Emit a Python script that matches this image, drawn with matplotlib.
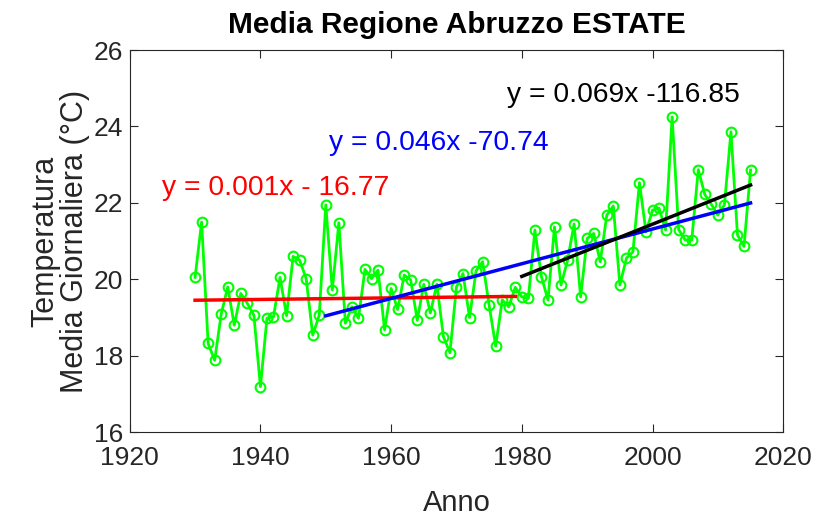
import numpy as np
import matplotlib
matplotlib.use("Agg")
import matplotlib.pyplot as plt

plt.rcParams['font.family'] = ['Liberation Sans', 'DejaVu Sans']

# temperature medie estive (°C), 1930-2015
anni = np.arange(1930, 2016)
temp = np.array([
    20.05, 21.50, 18.32, 17.88, 19.09, 19.80, 18.80, 19.63, 19.37, 19.06,
    17.19, 18.98, 19.02, 20.05, 19.05, 20.60, 20.50, 20.02, 18.54, 19.06,
    21.95, 19.72, 21.48, 18.85, 19.28, 18.98, 20.26, 20.02, 20.24, 18.68,
    19.76, 19.21, 20.11, 19.98, 18.93, 19.87, 19.12, 19.87, 18.50, 18.08,
    19.80, 20.15, 19.00, 20.22, 20.46, 19.32, 18.25, 19.46, 19.28, 19.79,
    19.54, 19.50, 21.29, 20.07, 19.46, 21.37, 19.85, 20.50, 21.45, 19.54,
    21.07, 21.20, 20.46, 21.68, 21.92, 19.85, 20.55, 20.72, 22.53, 21.24,
    21.81, 21.86, 21.29, 24.25, 21.30, 21.03, 21.03, 22.87, 22.22, 21.96,
    21.68, 21.95, 23.86, 21.16, 20.86, 22.86,
])

# periodi per le rette di regressione
periodi = [(1930, 1979), (1950, 2015), (1980, 2015)]
colori = ['#ff0000', '#0000ff', '#000000']
etichette = ['y = 0.001x - 16.77', 'y = 0.046x -70.74', 'y = 0.069x -116.85']
pos_etichette = [(1925.0, 22.4), (1950.5, 23.57), (1977.8, 24.82)]

fig = plt.figure(figsize=(8.21, 5.27), dpi=100)
ax = fig.add_axes([0.158, 0.180, 0.796, 0.725])

ax.plot(anni, temp, '-o', color='#00ff00', lw=2, ms=7, mfc='none', mew=1.5, zorder=2)

for (a, b), c in zip(periodi, colori):
    sel = (anni >= a) & (anni <= b)
    p = np.polyfit(anni[sel], temp[sel], 1)
    xx = np.array([a, b])
    ax.plot(xx, np.polyval(p, xx), color=c, lw=2.5, zorder=3)

for testo, (x, y), c in zip(etichette, pos_etichette, colori):
    ax.text(x, y, testo, color=c, fontsize=20.3, va='center', ha='left')

ax.set_xlim(1920, 2020)
ax.set_ylim(16, 26)
ax.set_xticks(np.arange(1920, 2021, 20))
ax.set_yticks(np.arange(16, 27, 2))
ax.tick_params(direction='in', top=True, right=True, length=6, labelsize=19,
               colors='#262626', width=0.8, pad=5)
ax.tick_params(axis='x', pad=10)
for s in ax.spines.values():
    s.set_color('#262626')
    s.set_linewidth(0.8)

ax.set_title('Media Regione Abruzzo ESTATE', fontsize=21.5, fontweight='bold', pad=12)
ax.set_xlabel('Anno', fontsize=21, color='#262626', labelpad=14)
ax.set_ylabel('Temperatura\nMedia Giornaliera (°C)', fontsize=22, color='#262626',
              labelpad=2, linespacing=1.0)

fig.savefig('out.png', dpi=100)
